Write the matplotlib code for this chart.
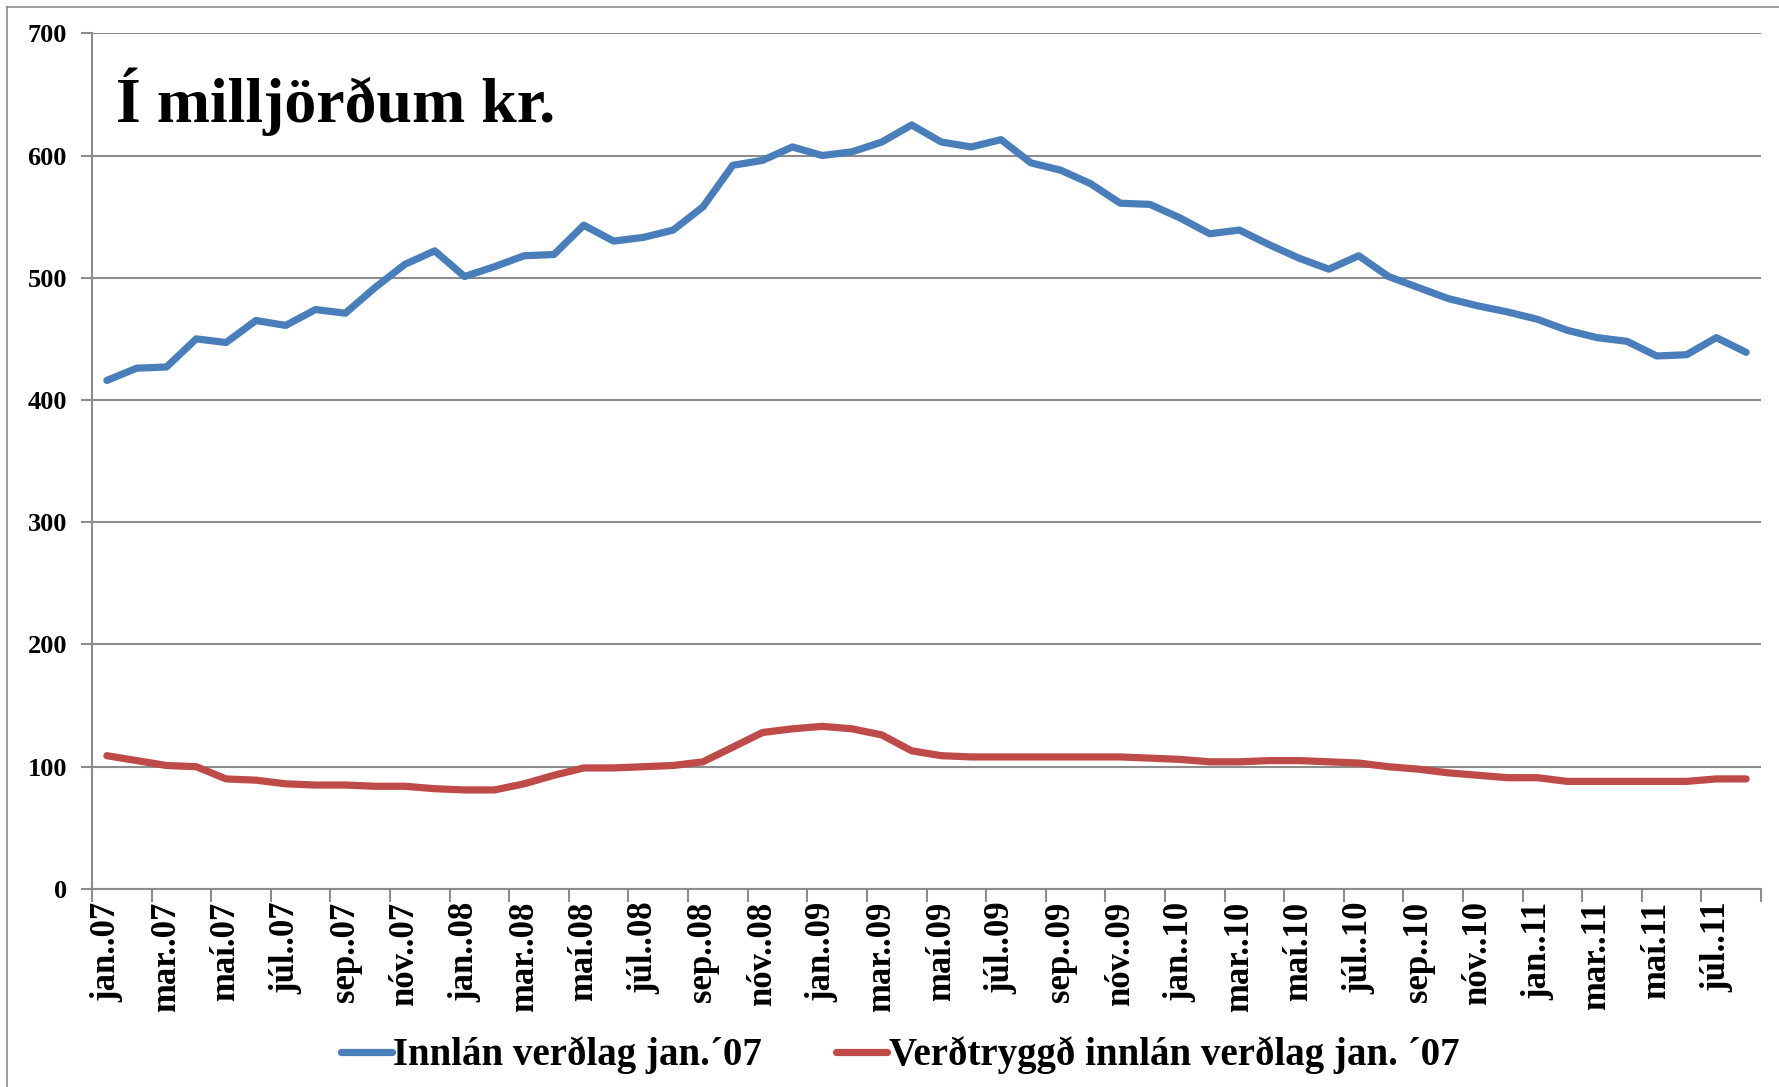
import matplotlib
matplotlib.use('Agg')
import matplotlib.pyplot as plt
import numpy as np

# Months jan 2007 .. aug 2011
months = ['jan.', 'feb.', 'mar.', 'apr.', 'maí', 'jún.', 'júl.', 'ágú.', 'sep.', 'okt.', 'nóv.', 'des.']
years = ['07', '08', '09', '10', '11']

innlan = [416, 426, 427, 450, 447, 465, 461, 474, 471, 492, 511, 522,
          501, 509, 518, 519, 543, 530, 533, 539, 558, 592, 596, 607,
          600, 603, 611, 625, 611, 607, 613, 594, 588, 577, 561, 560,
          549, 536, 539, 527, 516, 507, 518, 501, 492, 483, 477, 472,
          466, 457, 451, 448, 436, 437, 451, 439]

verdtryggd = [109, 105, 101, 100, 90, 89, 86, 85, 85, 84, 84, 82,
              81, 81, 86, 93, 99, 99, 100, 101, 104, 116, 128, 131,
              133, 131, 126, 113, 109, 108, 108, 108, 108, 108, 108, 107,
              106, 104, 104, 105, 105, 104, 103, 100, 98, 95, 93, 91,
              91, 88, 88, 88, 88, 88, 90, 90]

labels = [m + '.' + y for y in years for m in months][:len(innlan)]

serif = ['Liberation Serif', 'DejaVu Serif']
fig = plt.figure(figsize=(17.79, 10.87), dpi=100)
ax = fig.add_axes([0.0517, 0.1822, 0.9382, 0.7872])

x = np.arange(len(innlan))
ax.plot(x, innlan, color='#4A7EBB', lw=5.2, solid_capstyle='round', solid_joinstyle='round',
        label='Innlán verðlag jan.´07')
ax.plot(x, verdtryggd, color='#BE4B48', lw=5.2, solid_capstyle='round', solid_joinstyle='round',
        label='Verðtryggð innlán verðlag jan. ´07')

ax.set_xlim(-0.5, len(innlan) - 0.5)
ax.set_ylim(0, 700)
ax.set_yticks(np.arange(0, 701, 100))
ax.yaxis.grid(True, color='#8c8c8c', lw=1.5)
ax.set_axisbelow(True)

# major ticks at category boundaries, labels on minor ticks at centres
ax.set_xticks(np.arange(-0.5, len(innlan), 2))
ax.set_xticklabels([])
ax.set_xticks(x[::2], minor=True)
ax.set_xticklabels(labels[::2], minor=True, rotation=90, fontfamily=serif,
                   fontweight='bold', fontsize=25)
ax.tick_params(axis='x', which='major', length=9, color='#8c8c8c', width=1.5, direction='out')
ax.tick_params(axis='x', which='minor', length=0, pad=9)
ax.tick_params(axis='y', length=8, color='#8c8c8c', width=1.5, pad=10)
for t in ax.get_yticklabels():
    t.set_fontfamily(serif)
    t.set_fontweight('bold')
    t.set_fontsize(19)

for s in ['top', 'right']:
    ax.spines[s].set_visible(False)
for s in ['left', 'bottom']:
    ax.spines[s].set_color('#8c8c8c')
    ax.spines[s].set_linewidth(1.5)

ax.text(0.0144, 0.8958, 'Í milljörðum kr.', transform=ax.transAxes, fontfamily=serif,
        fontweight='bold', fontsize=46, va='baseline')

fig.legend(loc='center', bbox_to_anchor=(0.506, 0.029), ncol=2, frameon=False,
           prop={'family': serif, 'weight': 'bold', 'size': 28},
           handlelength=1.3, handletextpad=0.05, columnspacing=1.9)

# chart area border
fig.add_artist(plt.Line2D([0.004, 0.004], [0, 0.9936], transform=fig.transFigure, color='#8c8c8c', lw=1.2))
fig.add_artist(plt.Line2D([0.004, 1], [0.9936, 0.9936], transform=fig.transFigure, color='#8c8c8c', lw=1.2))

fig.savefig('out.png', dpi=100)
